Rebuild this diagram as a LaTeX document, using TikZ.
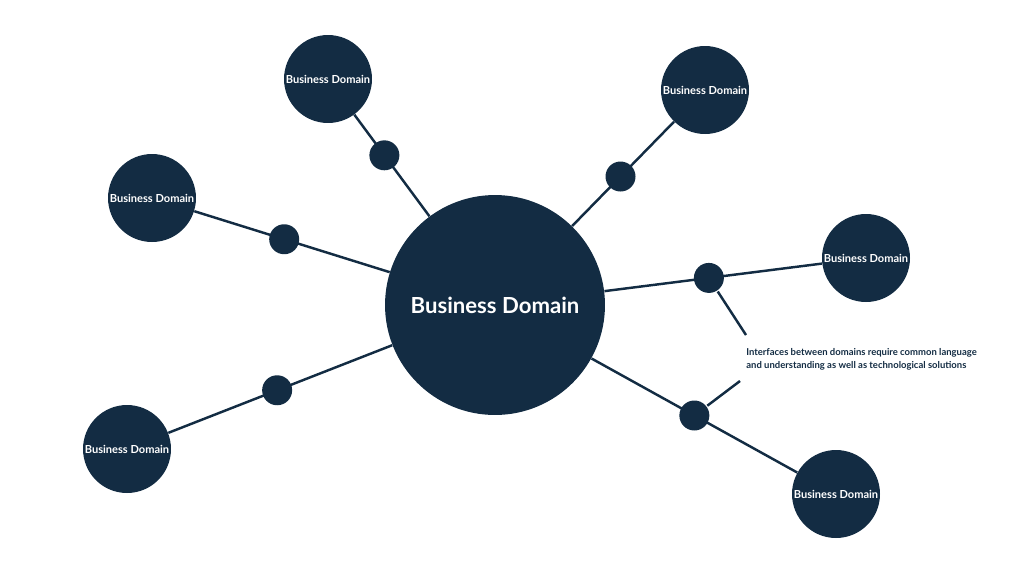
\documentclass[tikz,border=0pt]{standalone}
\usepackage{fontspec}
\setmainfont{Lato}
\usetikzlibrary{positioning}
\definecolor{navy}{HTML}{132C43}

\begin{document}
\begin{tikzpicture}[
                x=0.02cm, y=-0.02cm,
                hub/.style={circle, fill=navy, inner sep=0pt, minimum size=4.4cm,
                            text=white, font=\fontsize{12.6}{14}\selectfont\bfseries},
                areabox/.style={circle, fill=navy, inner sep=0pt, minimum size=1.76cm,
                               text=white, font=\fontsize{6.3}{7}\selectfont\bfseries},
                joint/.style={circle, fill=navy, inner sep=0pt, minimum size=0.6cm},
                link/.style={navy, line width=1.4pt},
                note/.style={text=navy, align=left, anchor=west, inner sep=0pt,
                             font=\fontsize{5.4}{7.6}\selectfont\bfseries}
            ]
                \useasboundingbox (0,0) rectangle (1024,576);
                \node[hub] (core) at (495,305) {Business Domain};
                \node[areabox] (d1) at (328,79) {Business Domain};
                \node[areabox] (d2) at (705,90) {Business Domain};
                \node[areabox] (d3) at (152,198) {Business Domain};
                \node[areabox] (d4) at (866,258) {Business Domain};
                \node[areabox] (d5) at (127,449) {Business Domain};
                \node[areabox] (d6) at (836,494) {Business Domain};
                \draw[link] (core) -- (d1) node[joint, pos=0.60] (j1) {};
                \draw[link] (core) -- (d2) node[joint, pos=0.475] (j2) {};
                \draw[link] (core) -- (d3) node[joint, pos=0.54] (j3) {};
                \draw[link] (core) -- (d4) node[joint, pos=0.48] (j4) {};
                \draw[link] (core) -- (d5) node[joint, pos=0.514] (j5) {};
                \draw[link] (core) -- (d6) node[joint, pos=0.50] (j6) {};
                % callout
                \node[note] (txt) at (746,359) {Interfaces between domains require common language\\
                    and understanding as well as technological solutions};
                \coordinate (c1) at (746,335);
                \coordinate (c2) at (740,381);
                \draw[link] (j4) -- (c1);
                \draw[link] (j6) -- (c2);
            \end{tikzpicture}
\end{document}
